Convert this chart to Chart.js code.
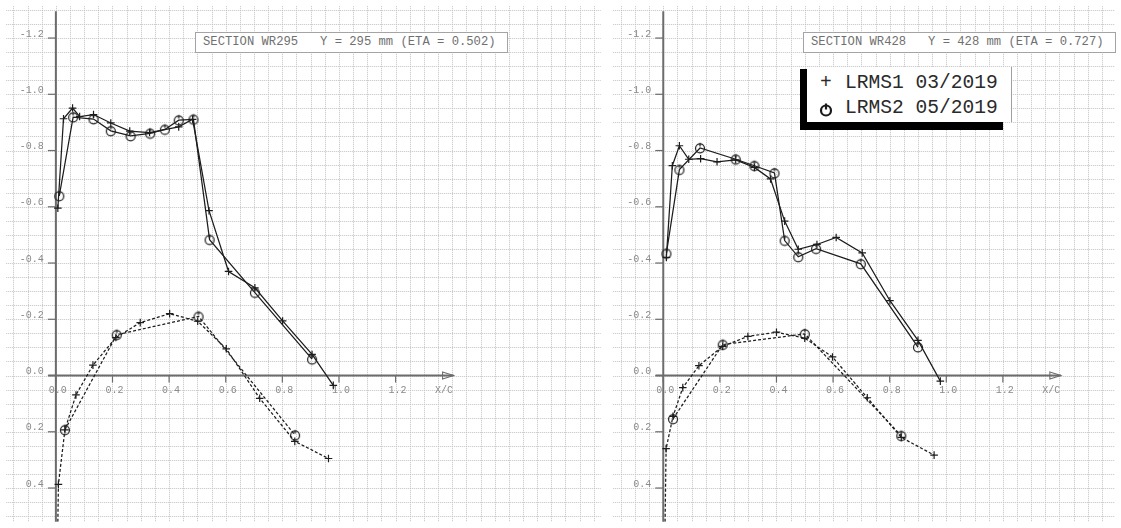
<!DOCTYPE html>
<html>
<head>
<meta charset="utf-8">
<script src="https://cdn.jsdelivr.net/npm/chart.js@4.4.1/dist/chart.umd.min.js"></script>
<style>
  html, body { margin: 0; padding: 0; background: #fff; }
  #wrap { position: relative; width: 1121px; height: 528px; overflow: hidden; background: #fff; }
  canvas { position: absolute; top: 0; }
  #cvL { left: 0; }
  #cvR { left: 607px; }
  .title {
    position: absolute; top: 32px; height: 21px; box-sizing: border-box;
    border: 1px solid #a4a4a4; background: #fff; color: #707070;
    font: 12.2px "Liberation Mono", monospace; line-height: 19px;
    white-space: pre; padding-left: 7px;
  }
  .shadow { position: absolute; background: #000; }
  #legendBox {
    position: absolute; left: 807px; top: 67px; width: 205px; height: 55px;
    background: #fff; border-right: 1px solid #a0a0a0; box-sizing: border-box;
  }
  .lrow {
    position: absolute; left: 0; height: 24px; line-height: 24px; white-space: pre;
    font: 19.6px "Liberation Mono", monospace; color: #2a2a2a;
  }
  .lsym { position: absolute; left: 12px; top: 0; width: 14px; height: 24px; text-align: center; }
  .ltxt { position: absolute; left: 38px; top: 0; }
</style>
</head>
<body>
<div id="wrap">
  <canvas id="cvL" width="607" height="528"></canvas>
  <canvas id="cvR" width="514" height="528"></canvas>
  <div class="title" id="titleL" style="left:195px; width:313px;"></div>
  <div class="title" id="titleR" style="left:803px; width:313px;"></div>
  <div class="shadow" style="left:800px; top:69px; width:8px; height:61px;"></div>
  <div class="shadow" style="left:800px; top:122px; width:203px; height:8px;"></div>
  <div id="legendBox"></div>
</div>
<script>
// ---- Pressure distributions Cp vs X/C, two spanwise sections ----

const SERIES_NAMES = ['LRMS1 03/2019', 'LRMS2 05/2019'];
const TITLE_WR295 = 'SECTION WR295   Y = 295 mm (ETA = 0.502)';
const TITLE_WR428 = 'SECTION WR428   Y = 428 mm (ETA = 0.727)';

// Axis tick labels
const X_TICKS = [0.0, 0.2, 0.4, 0.6, 0.8, 1.0, 1.2];
const Y_TICKS = [-1.2, -1.0, -0.8, -0.6, -0.4, -0.2, 0.0, 0.2, 0.4];
const X_AXIS_NAME = 'X/C';

// Section WR295 — LRMS1 (+)
const wr295_s1_upper_x  = [0.007, 0.027, 0.059, 0.084, 0.133, 0.194, 0.261, 0.331, 0.434, 0.483, 0.541, 0.610, 0.703, 0.801, 0.905, 0.980];
const wr295_s1_upper_cp = [-0.595, -0.913, -0.951, -0.921, -0.928, -0.898, -0.869, -0.864, -0.884, -0.911, -0.586, -0.370, -0.312, -0.194, -0.075, 0.035];
const wr295_s1_lower_x  = [0.000, 0.009, 0.032, 0.071, 0.131, 0.212, 0.298, 0.402, 0.501, 0.602, 0.720, 0.844, 0.963];
const wr295_s1_lower_cp = [1.000, 0.387, 0.193, 0.069, -0.037, -0.135, -0.188, -0.220, -0.193, -0.095, 0.081, 0.234, 0.295];
// Section WR295 — LRMS2 (o)
const wr295_s2_upper_x  = [0.012, 0.061, 0.133, 0.194, 0.264, 0.333, 0.385, 0.434, 0.486, 0.543, 0.703, 0.905];
const wr295_s2_upper_cp = [-0.639, -0.919, -0.912, -0.870, -0.852, -0.861, -0.875, -0.908, -0.911, -0.483, -0.295, -0.058];
const wr295_s2_lower_x  = [0.032, 0.215, 0.504, 0.845];
const wr295_s2_lower_cp = [0.193, -0.145, -0.210, 0.212];

// Section WR428 — LRMS1 (+)
const wr428_s1_upper_x  = [0.011, 0.032, 0.057, 0.090, 0.132, 0.190, 0.256, 0.322, 0.379, 0.429, 0.477, 0.543, 0.611, 0.703, 0.801, 0.900, 0.979];
const wr428_s1_upper_cp = [-0.420, -0.746, -0.817, -0.769, -0.771, -0.760, -0.767, -0.740, -0.699, -0.549, -0.449, -0.466, -0.491, -0.436, -0.266, -0.125, 0.020];
const wr428_s1_lower_x  = [0.000, 0.010, 0.0345, 0.069, 0.126, 0.210, 0.299, 0.400, 0.500, 0.598, 0.721, 0.841, 0.957];
const wr428_s1_lower_cp = [1.000, 0.260, 0.145, 0.043, -0.035, -0.104, -0.139, -0.154, -0.133, -0.066, 0.079, 0.220, 0.283];
// Section WR428 — LRMS2 (o)
const wr428_s2_upper_x  = [0.011, 0.057, 0.130, 0.256, 0.322, 0.393, 0.429, 0.477, 0.540, 0.698, 0.900];
const wr428_s2_upper_cp = [-0.434, -0.732, -0.809, -0.769, -0.746, -0.720, -0.480, -0.422, -0.451, -0.397, -0.101];
const wr428_s2_lower_x  = [0.0345, 0.210, 0.500, 0.841];
const wr428_s2_lower_cp = [0.154, -0.110, -0.148, 0.214];

// ---- view ranges (equal-aspect, Cp axis inverted) ----
const Y_RANGE = [-1.3132, 0.5201];
const X_RANGE_L = [-0.17543, 1.92491];
const X_RANGE_R = [-0.1769, 1.5955];
const GRID_STEP = 0.05;

const INK = '#1d1d1d';
const LABEL_GREY = '#8a8a8a';
const AXIS_GREY = '#6c6c6c';
const MONO = '"Liberation Mono", "DejaVu Sans Mono", monospace';

// circle marker with a short stem on top
function ringMarker() {
  const c = document.createElement('canvas');
  c.width = 14; c.height = 14;
  const g = c.getContext('2d');
  g.strokeStyle = INK; g.lineWidth = 1.2;
  g.beginPath(); g.arc(7, 7.3, 4.5, 0, Math.PI * 2); g.stroke();
  g.beginPath(); g.moveTo(7, 1.8); g.lineTo(7, 5.6); g.stroke();
  return c;
}
const RING = ringMarker();

function pts(xs, cps) { return xs.map((v, i) => ({ x: v, y: cps[i] })); }

function series(xs, cps, marker, dashed) {
  const ds = {
    data: pts(xs, cps),
    borderColor: INK,
    borderWidth: 1.25,
    borderDash: dashed ? [3, 2] : [],
    tension: 0,
    fill: false,
    pointBorderColor: INK,
    pointBackgroundColor: 'rgba(0,0,0,0)',
    pointBorderWidth: 1.2
  };
  if (marker === 'cross') { ds.pointStyle = 'cross'; ds.pointRadius = 3.8; }
  else { ds.pointStyle = RING; ds.pointRadius = 5; }
  return ds;
}

// grid, centred axes, tick marks and tick labels
const axesPlugin = {
  id: 'cpAxes',
  beforeDatasetsDraw(chart) {
    const { ctx, chartArea: a, scales: { x, y } } = chart;
    ctx.save();
    // dotted grid every 0.05
    ctx.strokeStyle = '#c2c2c2';
    ctx.lineWidth = 1;
    ctx.setLineDash([1, 1]);
    for (let k = Math.ceil(x.min / GRID_STEP); k * GRID_STEP <= x.max; k++) {
      const px = Math.round(x.getPixelForValue(k * GRID_STEP)) + 0.5;
      ctx.beginPath(); ctx.moveTo(px, a.top); ctx.lineTo(px, a.bottom); ctx.stroke();
    }
    for (let k = Math.ceil(y.min / GRID_STEP); k * GRID_STEP <= y.max; k++) {
      const py = Math.round(y.getPixelForValue(k * GRID_STEP)) + 0.5;
      ctx.beginPath(); ctx.moveTo(a.left, py); ctx.lineTo(a.right, py); ctx.stroke();
    }
    ctx.setLineDash([]);

    const x0 = x.getPixelForValue(0);
    const y0 = y.getPixelForValue(0);

    // axis lines
    ctx.strokeStyle = AXIS_GREY;
    ctx.lineWidth = 2;
    ctx.beginPath(); ctx.moveTo(x0, y.getPixelForValue(-1.295)); ctx.lineTo(x0, a.bottom); ctx.stroke();
    const xEnd = x.getPixelForValue(1.405);
    ctx.beginPath(); ctx.moveTo(x.getPixelForValue(-0.027), y0); ctx.lineTo(xEnd, y0); ctx.stroke();
    // arrow head
    ctx.lineWidth = 1.1;
    const xb = x.getPixelForValue(1.366);
    ctx.beginPath(); ctx.moveTo(xb, y0 - 3.5); ctx.lineTo(xEnd, y0); ctx.lineTo(xb, y0 + 3.5); ctx.closePath(); ctx.stroke();

    // tick marks
    ctx.lineWidth = 1.2;
    Y_TICKS.forEach(v => {
      const py = y.getPixelForValue(v);
      ctx.beginPath(); ctx.moveTo(x0 - 8, py); ctx.lineTo(x0, py); ctx.stroke();
    });
    X_TICKS.forEach(v => {
      const px = x.getPixelForValue(v);
      ctx.beginPath(); ctx.moveTo(px, y0); ctx.lineTo(px, y0 + 7); ctx.stroke();
    });

    // tick labels
    ctx.fillStyle = LABEL_GREY;
    ctx.font = '10px ' + MONO;
    ctx.textBaseline = 'middle';
    ctx.textAlign = 'right';
    Y_TICKS.forEach(v => {
      ctx.fillText(v.toFixed(1), x0 - 12, y.getPixelForValue(v) - 4);
    });
    ctx.textAlign = 'center';
    X_TICKS.forEach(v => {
      ctx.fillText(v.toFixed(1), x.getPixelForValue(v) + 2, y0 + 15);
    });
    ctx.fillText(X_AXIS_NAME, x.getPixelForValue(1.371), y0 + 15);
    ctx.restore();
  }
};

function makeChart(id, xRange, sets) {
  return new Chart(document.getElementById(id), {
    type: 'line',
    data: { datasets: sets },
    options: {
      responsive: false,
      animation: false,
      events: [],
      layout: { padding: 0 },
      plugins: { legend: { display: false }, tooltip: { enabled: false } },
      scales: {
        x: { type: 'linear', min: xRange[0], max: xRange[1], display: false },
        y: { type: 'linear', min: Y_RANGE[0], max: Y_RANGE[1], reverse: true, display: false }
      }
    },
    plugins: [axesPlugin]
  });
}

makeChart('cvL', X_RANGE_L, [
  series(wr295_s1_upper_x, wr295_s1_upper_cp, 'cross', false),
  series(wr295_s1_lower_x, wr295_s1_lower_cp, 'cross', true),
  series(wr295_s2_upper_x, wr295_s2_upper_cp, 'ring', false),
  series(wr295_s2_lower_x, wr295_s2_lower_cp, 'ring', true)
]);

makeChart('cvR', X_RANGE_R, [
  series(wr428_s1_upper_x, wr428_s1_upper_cp, 'cross', false),
  series(wr428_s1_lower_x, wr428_s1_lower_cp, 'cross', true),
  series(wr428_s2_upper_x, wr428_s2_upper_cp, 'ring', false),
  series(wr428_s2_lower_x, wr428_s2_lower_cp, 'ring', true)
]);

document.getElementById('titleL').textContent = TITLE_WR295;
document.getElementById('titleR').textContent = TITLE_WR428;

// legend rows
const legendBox = document.getElementById('legendBox');
const ringSvg = '<svg width="14" height="24" viewBox="0 0 14 24"><circle cx="7" cy="13.5" r="5" fill="none" stroke="#1a1a1a" stroke-width="2.2"/><line x1="7" y1="6.5" x2="7" y2="12.5" stroke="#1a1a1a" stroke-width="2.2"/></svg>';
SERIES_NAMES.forEach((name, i) => {
  const row = document.createElement('div');
  row.className = 'lrow';
  row.style.top = (5 + i * 24.5) + 'px';
  const sym = document.createElement('span');
  sym.className = 'lsym';
  if (i === 0) sym.textContent = '+'; else sym.innerHTML = ringSvg;
  const txt = document.createElement('span');
  txt.className = 'ltxt';
  txt.textContent = name;
  row.appendChild(sym); row.appendChild(txt);
  legendBox.appendChild(row);
});
</script>
</body>
</html>
